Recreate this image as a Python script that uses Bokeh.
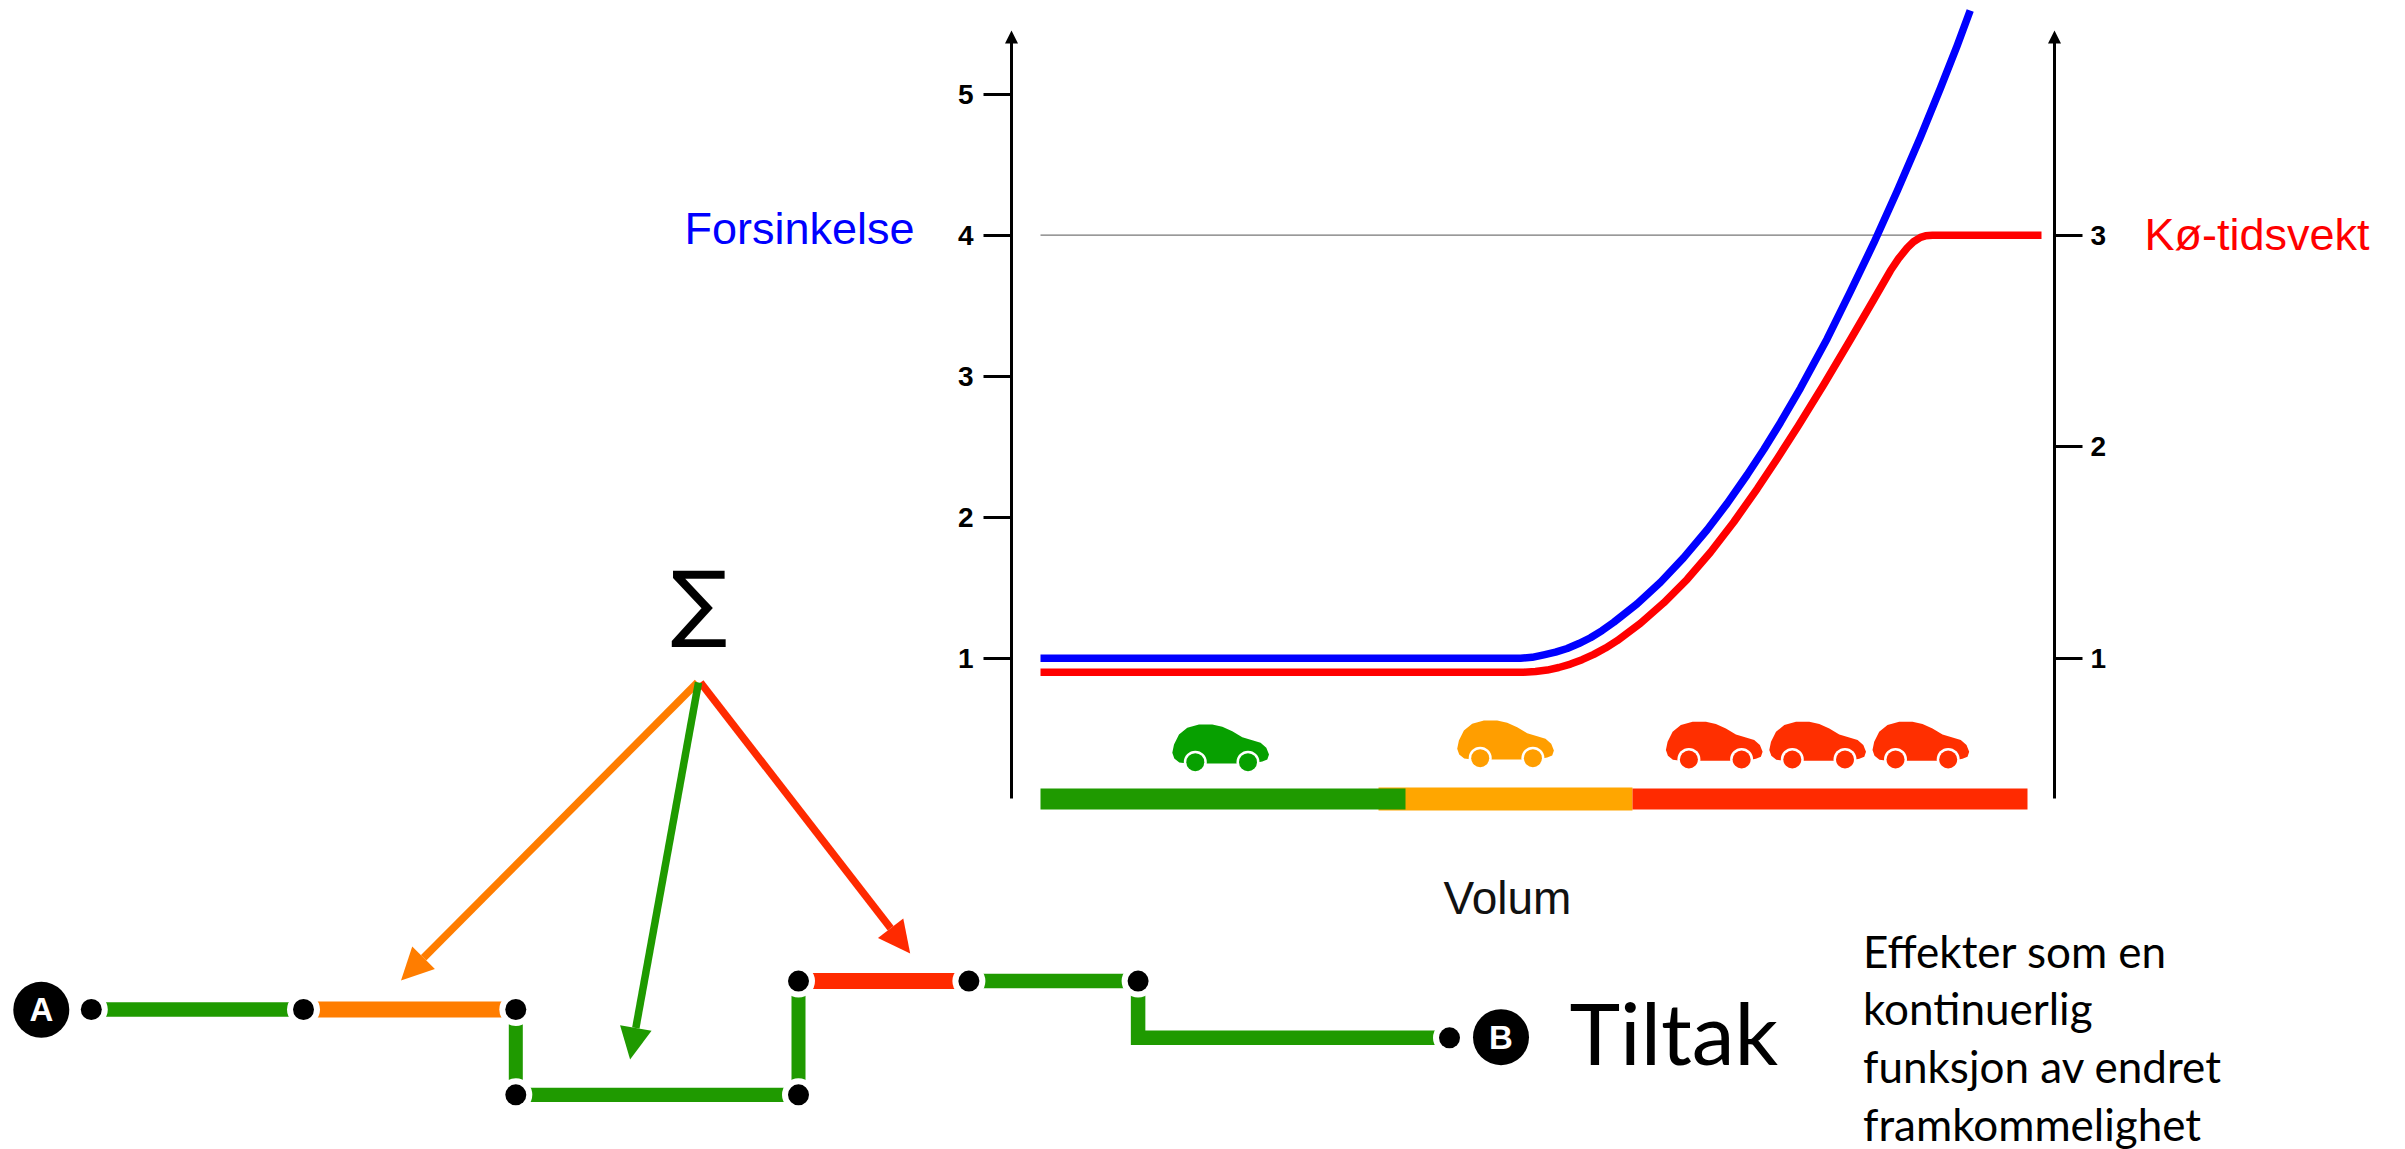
from bokeh.plotting import figure
from bokeh.models import Range1d, LinearAxis, FixedTicker, Arrow, NormalHead
from bokeh.core.properties import value
from bokeh.embed import file_html
from bokeh.resources import INLINE

# ---- chart data
volume_blue = [0, 48, 49.16, 50.33, 51.5, 52.67, 53.83, 55, 56.16, 57.33, 59.67, 62, 64.3, 66.67, 68.67, 70.67, 72.33, 74, 76, 78.67, 81, 83.33, 85.67, 88, 90, 91.67, 92.97]
delay_blue = [1, 1, 1.006, 1.024, 1.043, 1.069, 1.104, 1.145, 1.196, 1.255, 1.386, 1.539, 1.712, 1.911, 2.098, 2.301, 2.48, 2.672, 2.916, 3.266, 3.601, 3.945, 4.313, 4.696, 5.044, 5.345, 5.594]
volume_red = [0, 48.33, 49.5, 50.67, 51.83, 53, 54.16, 55.33, 56.5, 57.67, 60, 62.33, 64.67, 67, 69.33, 71.67, 73.67, 75.8, 78.33, 81, 83.33, 85, 85.8, 86.67, 87.3, 88, 88.5, 89.2, 100.1]
weight_red = [0.934, 0.934, 0.937, 0.944, 0.956, 0.972, 0.993, 1.018, 1.048, 1.083, 1.165, 1.262, 1.373, 1.501, 1.644, 1.801, 1.943, 2.1, 2.294, 2.507, 2.696, 2.833, 2.889, 2.94, 2.969, 2.99, 2.997, 3, 3]
left_ticks = [1, 2, 3, 4, 5]
right_ticks = [1, 2, 3]
band_names = ["orange", "green", "red"]
band_start = [33.8, 0, 59.2]
band_end = [59.2, 36.5, 98.7]
band_colors = ["#ffa600", "#1f9a00", "#ff2a00"]
ref_volume = [0, 88.6]
ref_delay = [4, 4]

# ---- diagram data
node_x = [90.8, 303, 515.3, 515.3, 798, 798, 968.4, 1137.6, 1449]
node_y = [1009, 1009, 1009, 1094.3, 1094.3, 980.6, 980.6, 980.6, 1037.3]
routes = [([0, 1], "#1f9a00", 14.7), ([1, 2], "#ff7d00", 16), ([2, 3], "#1f9a00", 14),
          ([3, 4], "#1f9a00", 14.2), ([4, 5], "#1f9a00", 14), ([5, 6], "#ff2a00", 16),
          ([6, 7], "#1f9a00", 14.5), ([7, (1137.6, 1037.3), 8], "#1f9a00", 14.5)]
ends_x = [40.8, 1500.5]
ends_y = [1009.3, 1036.7]
ends_text = ["A", "B"]
pointers = [((697, 682), (400.5, 980), "#ff7d00"),
            ((700, 682), (909.7, 953), "#ff2a00"),
            ((698, 682), (629.6, 1059), "#1f9a00")]
car_x = [1171.8, 1456.7, 1665.4, 1768.8, 1872]
car_y = [763, 759, 760.3, 760.3, 760.3]
car_colors = ["#07a000", "#ff9e00", "#ff2f00", "#ff2f00", "#ff2f00"]
car_dx = [0, 1.7, 6.7, 15, 26.7, 40, 50, 60, 70, 80, 88.3, 94, 96.7, 95, 90, 80, 15, 7, 2]
car_dy = [-10.7, -19, -29, -35.7, -39, -39, -36.7, -32.3, -26.3, -23.3, -20.7, -15.7, -9, -4, -2, 0, 0, -1, -5]
wheel_dx = [23, 75.7]
wheel_dy = [-1.3, -1.3]
effect_lines = ["Effekter som en", "kontinuerlig", "funksjon av endret", "framkommelighet"]
effect_y = [950.7, 1007.3, 1065.3, 1123]

W, H = 2405, 1149
p = figure(width=W, height=H, output_backend="svg", toolbar_location=None,
           x_range=Range1d(0, W), y_range=Range1d(H, 0),
           x_axis_type=None, y_axis_type=None, min_border=0,
           outline_line_color=None, background_fill_color="white", border_fill_color="white")
p.xgrid.visible = False
p.ygrid.visible = False

# scales of the chart: one tick unit per 141 / 211.5 diagram units, volume 10 diagram units per unit
p.extra_x_ranges["volum"] = Range1d((0 - 1040) / 10, (W - 1040) / 10)
p.extra_y_ranges["delay"] = Range1d(4 - (H - 234.7) / 141, 4 + 234.7 / 141)
p.extra_y_ranges["queue"] = Range1d(3 - (H - 234.7) / 211.5, 3 + 234.7 / 211.5)


def add_axis(side, loc, rng, ticks, bounds, standoff):
    ax = LinearAxis(y_range_name=rng, fixed_location=loc, ticker=FixedTicker(ticks=ticks),
                    bounds=bounds, axis_line_width=3, axis_line_color="black",
                    major_tick_line_width=3, major_tick_line_color="black",
                    major_tick_in=0, major_tick_out=28, minor_tick_line_color=None,
                    major_label_standoff=standoff, major_label_text_font="Liberation Sans",
                    major_label_text_font_style="bold", major_label_text_font_size="28px",
                    major_label_text_color="black")
    p.add_layout(ax, side)


add_axis("left", 1011, "delay", left_ticks, (0.005, 5.37), 10)
add_axis("right", 2054, "queue", right_ticks, (0.337, 3.91), 8)
for x in (1011, 2054):
    p.add_layout(Arrow(end=NormalHead(size=13, fill_color="black", line_color="black", line_width=0),
                       x_start=x, y_start=50, x_end=x, y_end=30, line_color="black", line_width=3))

p.line(ref_volume, ref_delay, x_range_name="volum", y_range_name="delay", line_color="#777777", line_width=1.2)
p.line(volume_red, weight_red, x_range_name="volum", y_range_name="queue", line_color="#ff0000", line_width=7.5, line_join="round")
p.line(volume_blue, delay_blue, x_range_name="volum", y_range_name="delay", line_color="#0000ff", line_width=7.5, line_join="round")

for s, e, c, name in zip(band_start, band_end, band_colors, band_names):
    top, bottom = (787, 810) if name == "orange" else (788, 809)
    p.quad(left=[s], right=[e], top=[top], bottom=[bottom], x_range_name="volum", fill_color=c, line_color=None)

for cx, cy, c in zip(car_x, car_y, car_colors):
    p.patch([cx + d for d in car_dx], [cy + d for d in car_dy], fill_color=c, line_color=None)
    wx = [cx + d for d in wheel_dx]
    wy = [cy + d for d in wheel_dy]
    p.circle(wx, wy, radius=11.5, fill_color="white", line_color=None)
    p.circle(wx, wy, radius=9, fill_color=c, line_color=None)

for idx, col, lw in routes:
    xs = [node_x[i] if isinstance(i, int) else i[0] for i in idx]
    ys = [node_y[i] if isinstance(i, int) else i[1] for i in idx]
    p.line(xs, ys, line_color=col, line_width=lw, line_cap="butt", line_join="miter")

p.scatter(node_x, node_y, size=33, fill_color="white", line_color=None)
p.scatter(node_x, node_y, size=21, fill_color="black", line_color=None)
p.scatter(ends_x, ends_y, size=56, fill_color="black", line_color=None)
p.text(ends_x, ends_y, text=ends_text, text_color="white", text_align="center", text_baseline="middle",
       text_font=value("Liberation Sans"), text_font_style="bold", text_font_size="33px")

for (a, b, c) in pointers:
    p.add_layout(Arrow(end=NormalHead(size=32, fill_color=c, line_color=c, line_width=0),
                       x_start=a[0], y_start=a[1], x_end=b[0], y_end=b[1], line_color=c, line_width=7.5))


def txt(x, y, s, font, size, color="black", align="left"):
    p.text([x], [y], text=[s], text_font=value(font), text_font_size=size, text_color=color,
           text_align=align, text_baseline="alphabetic")


txt(684, 227.7, "Forsinkelse", "Liberation Sans", "45px", "#0000ff")
txt(2144, 233.7, "Kø-tidsvekt", "Liberation Sans", "45px", "#ff0000")
txt(1443, 897.1, "Volum", "Liberation Sans", "46px", "#111111")
txt(1569, 1030.7, "Tiltak", "Lato", "86px")
txt(698.5, 601.7, "∑", "DejaVu Sans", "84px", "black", "center")
for s, y in zip(effect_lines, effect_y):
    txt(1862.5, y, s, "Lato", "44px")

open("out.html", "w").write(file_html(p, INLINE))
